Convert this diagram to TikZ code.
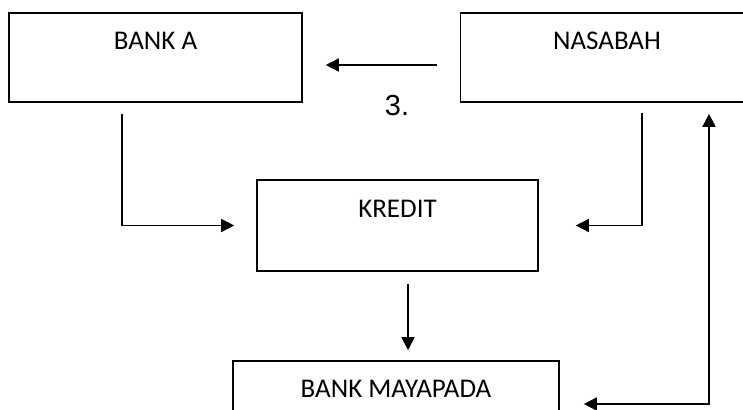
\documentclass[tikz,border=0pt]{standalone}
\usepackage{fontspec}
\setmainfont{Carlito}
\newfontfamily\arialfont{Liberation Sans}
\usetikzlibrary{arrows.meta}

\begin{document}
\begin{tikzpicture}[x=1pt,y=-1pt,>={Triangle[length=13pt,width=13pt]},
  kotak/.style={draw,line width=1.6pt,inner sep=0pt,text height=37pt,
    font=\fontsize{27}{31}\selectfont},
  panah/.style={->,line width=1.5pt}]
  \useasboundingbox (0,0) rectangle (743,409);
  \clip (0,0) rectangle (743,409);

  \node[kotak,minimum width=293pt,text depth=52pt] (bankA)    at (155.5,57.5) {BANK A};
  \node[kotak,minimum width=293pt,text depth=52pt] (nasabah)  at (607,57.5)   {NASABAH};
  \node[kotak,minimum width=281pt,text depth=54pt] (kredit)   at (397.5,225.5) {KREDIT};
  \node[kotak,minimum width=326pt,text height=36pt,text depth=50pt] (mayapada) at (396,404) {BANK MAYAPADA};

  \node[font=\arialfont\fontsize{29}{33}\selectfont] (no3) at (397,106) {3.};

  %\path[->] (nasabah) edge (bankA);
  \draw[panah,shorten <=23pt,shorten >=23pt] ([yshift=-7.5pt]nasabah.west) -- ([yshift=-7.5pt]bankA.east);
  \draw[panah,shorten <=11pt,shorten >=22pt] ([xshift=-33.5pt]bankA.south) |- (kredit.west);
  \draw[panah,shorten <=10pt,shorten >=37pt] ([xshift=35pt]nasabah.south) |- (kredit.east);
  \draw[panah,shorten <=12pt,shorten >=10pt] ([xshift=10.5pt]kredit.south) -- ([xshift=10.5pt]kredit.south |- mayapada.north);
  \draw[panah,<->,shorten <=24pt,shorten >=11pt] (mayapada.east) -| ([xshift=102pt]nasabah.south);
\end{tikzpicture}
\end{document}
